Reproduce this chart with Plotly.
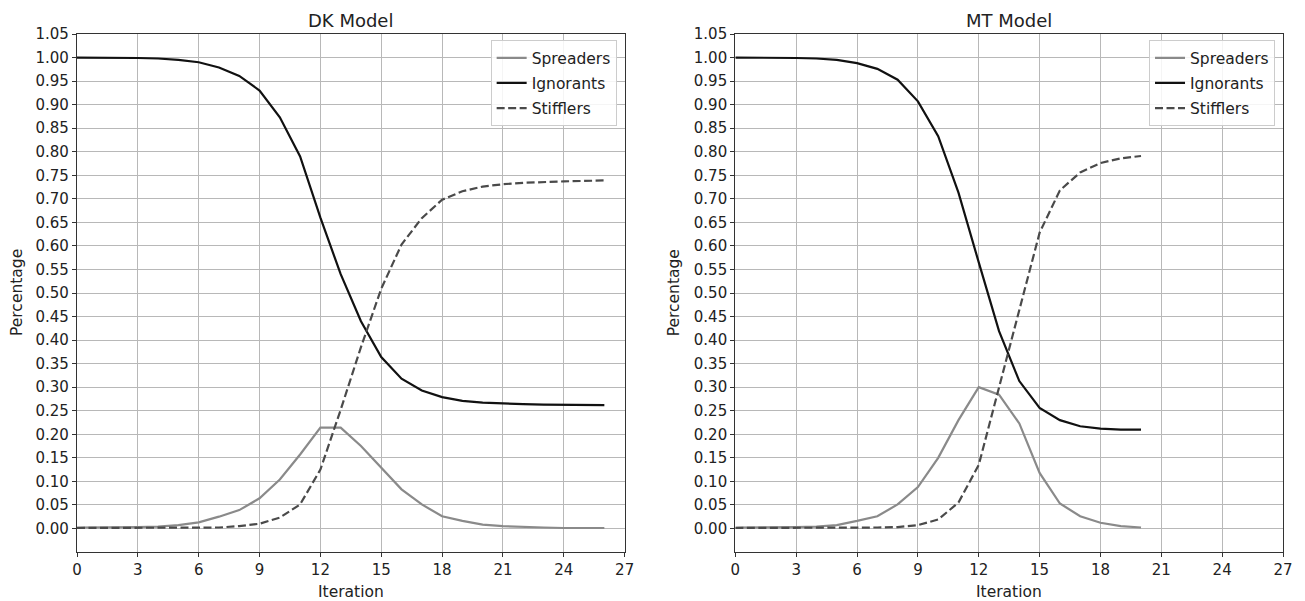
import plotly.graph_objects as go

# ---------------- data ----------------
dk_iter = list(range(0, 27))
dk_spreaders = [0.002, 0.002, 0.002, 0.003, 0.004, 0.007, 0.013, 0.025, 0.039, 0.064,
                0.104, 0.157, 0.214, 0.214, 0.175, 0.129, 0.083, 0.051, 0.026, 0.016,
                0.008, 0.005, 0.003, 0.002, 0.001, 0.001, 0.001]
dk_ignorants = [1.000, 1.000, 1.000, 0.999, 0.998, 0.995, 0.990, 0.979, 0.961, 0.930,
                0.873, 0.790, 0.660, 0.540, 0.440, 0.364, 0.318, 0.293, 0.279, 0.271,
                0.267, 0.265, 0.264, 0.263, 0.263, 0.262, 0.262]
dk_stifflers = [0.001, 0.001, 0.001, 0.001, 0.001, 0.001, 0.002, 0.002, 0.005, 0.010,
                0.023, 0.051, 0.125, 0.252, 0.385, 0.509, 0.603, 0.659, 0.698, 0.716,
                0.726, 0.731, 0.734, 0.736, 0.737, 0.738, 0.739]

mt_iter = list(range(0, 21))
mt_spreaders = [0.002, 0.002, 0.002, 0.003, 0.004, 0.007, 0.016, 0.026, 0.051, 0.088,
                0.150, 0.230, 0.300, 0.284, 0.223, 0.118, 0.053, 0.026, 0.012, 0.005,
                0.002]
mt_ignorants = [1.000, 1.000, 1.000, 0.999, 0.998, 0.995, 0.988, 0.976, 0.953, 0.907,
                0.833, 0.713, 0.565, 0.419, 0.313, 0.256, 0.230, 0.217, 0.212, 0.210,
                0.210]
mt_stifflers = [0.001, 0.001, 0.001, 0.001, 0.001, 0.001, 0.002, 0.002, 0.003, 0.007,
                0.019, 0.055, 0.135, 0.297, 0.464, 0.628, 0.718, 0.756, 0.776, 0.786,
                0.791]

x_ticks = list(range(0, 28, 3))
y_ticks = [round(i * 0.05, 2) for i in range(0, 22)]
y_tick_labels = [f"{v:.2f}" for v in y_ticks]

series_names = ["Spreaders", "Ignorants", "Stifflers"]
# --------------------------------------

styles = {
    "Spreaders": dict(color="#8a8a8a", width=2.2, dash="solid"),
    "Ignorants": dict(color="#111111", width=2.2, dash="solid"),
    "Stifflers": dict(color="#4a4a4a", width=2.2, dash="8px,3.5px"),
}

fig = go.Figure()

panels = [
    ("x", "y", "legend", dk_iter, [dk_spreaders, dk_ignorants, dk_stifflers]),
    ("x2", "y2", "legend2", mt_iter, [mt_spreaders, mt_ignorants, mt_stifflers]),
]
for xa, ya, lg, xs, ys_list in panels:
    for name, ys in zip(series_names, ys_list):
        fig.add_trace(go.Scatter(
            x=xs, y=ys, mode="lines", name=name, line=styles[name],
            xaxis=xa, yaxis=ya, legend=lg, legendgroup=lg + name,
        ))

font_family = "DejaVu Sans"
axis_common = dict(
    showgrid=True, gridcolor="#b8b8b8", gridwidth=1.2,
    showline=True, linecolor="#333333", linewidth=1.3, mirror=True,
    ticks="outside", ticklen=4, tickcolor="#333333", tickwidth=1.2,
    tickfont=dict(family=font_family, size=15, color="#222222"),
    zeroline=False,
)

# page body has an 8px default margin; compensate so the figure sits at the target pixels
OFF = 8
W, H = 1305 - OFF, 601 - OFF
ml, mr, mt_, mb = 77 - OFF, 19, 34 - OFF, 49
pw = W - ml - mr
left_dom = [0, (626 - 77) / pw]
right_dom = [(737 - 77) / pw, 1]

leg_common = dict(
    y=0.988, xanchor="right", yanchor="top",
    bgcolor="rgba(255,255,255,0.85)", bordercolor="#cccccc", borderwidth=1,
    font=dict(family=font_family, size=15.5, color="#222222"),
    tracegroupgap=2, itemwidth=30, traceorder="grouped",
)

fig.update_layout(
    width=W, height=H,
    margin=dict(l=ml, r=mr, t=mt_, b=mb),
    paper_bgcolor="white", plot_bgcolor="white",
    font=dict(family=font_family, color="#222222"),
    xaxis=dict(domain=left_dom, range=[0, 27], tickvals=x_ticks, anchor="y", **axis_common),
    yaxis=dict(domain=[0, 1], range=[-0.05, 1.05], tickvals=y_ticks, ticktext=y_tick_labels,
               anchor="x", **axis_common),
    xaxis2=dict(domain=right_dom, range=[0, 27], tickvals=x_ticks, anchor="y2", **axis_common),
    yaxis2=dict(domain=[0, 1], range=[-0.05, 1.05], tickvals=y_ticks, ticktext=y_tick_labels,
                anchor="x2", **axis_common),
    legend=dict(x=(618 - 77) / pw, **leg_common),
    legend2=dict(x=(1278 - 77) / pw, **leg_common),
    showlegend=True,
)

ann_font = dict(family=font_family, size=18, color="#222222")
lab_font = dict(family=font_family, size=15.5, color="#222222")
fig.add_annotation(text="DK Model", xref="x domain", yref="paper", x=0.5, y=1, yshift=1,
                   showarrow=False, xanchor="center", yanchor="bottom", font=ann_font)
fig.add_annotation(text="MT Model", xref="x2 domain", yref="paper", x=0.5, y=1, yshift=1,
                   showarrow=False, xanchor="center", yanchor="bottom", font=ann_font)
fig.add_annotation(text="Iteration", xref="x domain", yref="paper", x=0.5, y=0, yshift=-29,
                   showarrow=False, xanchor="center", yanchor="top", font=lab_font)
fig.add_annotation(text="Iteration", xref="x2 domain", yref="paper", x=0.5, y=0, yshift=-29,
                   showarrow=False, xanchor="center", yanchor="top", font=lab_font)
fig.add_annotation(text="Percentage", xref="x domain", yref="y domain", x=0, y=0.5, xshift=-60,
                   textangle=-90, showarrow=False, xanchor="center", yanchor="middle", font=lab_font)
fig.add_annotation(text="Percentage", xref="x2 domain", yref="y2 domain", x=0, y=0.5, xshift=-61,
                   textangle=-90, showarrow=False, xanchor="center", yanchor="middle", font=lab_font)

fig.write_html("out.html")
